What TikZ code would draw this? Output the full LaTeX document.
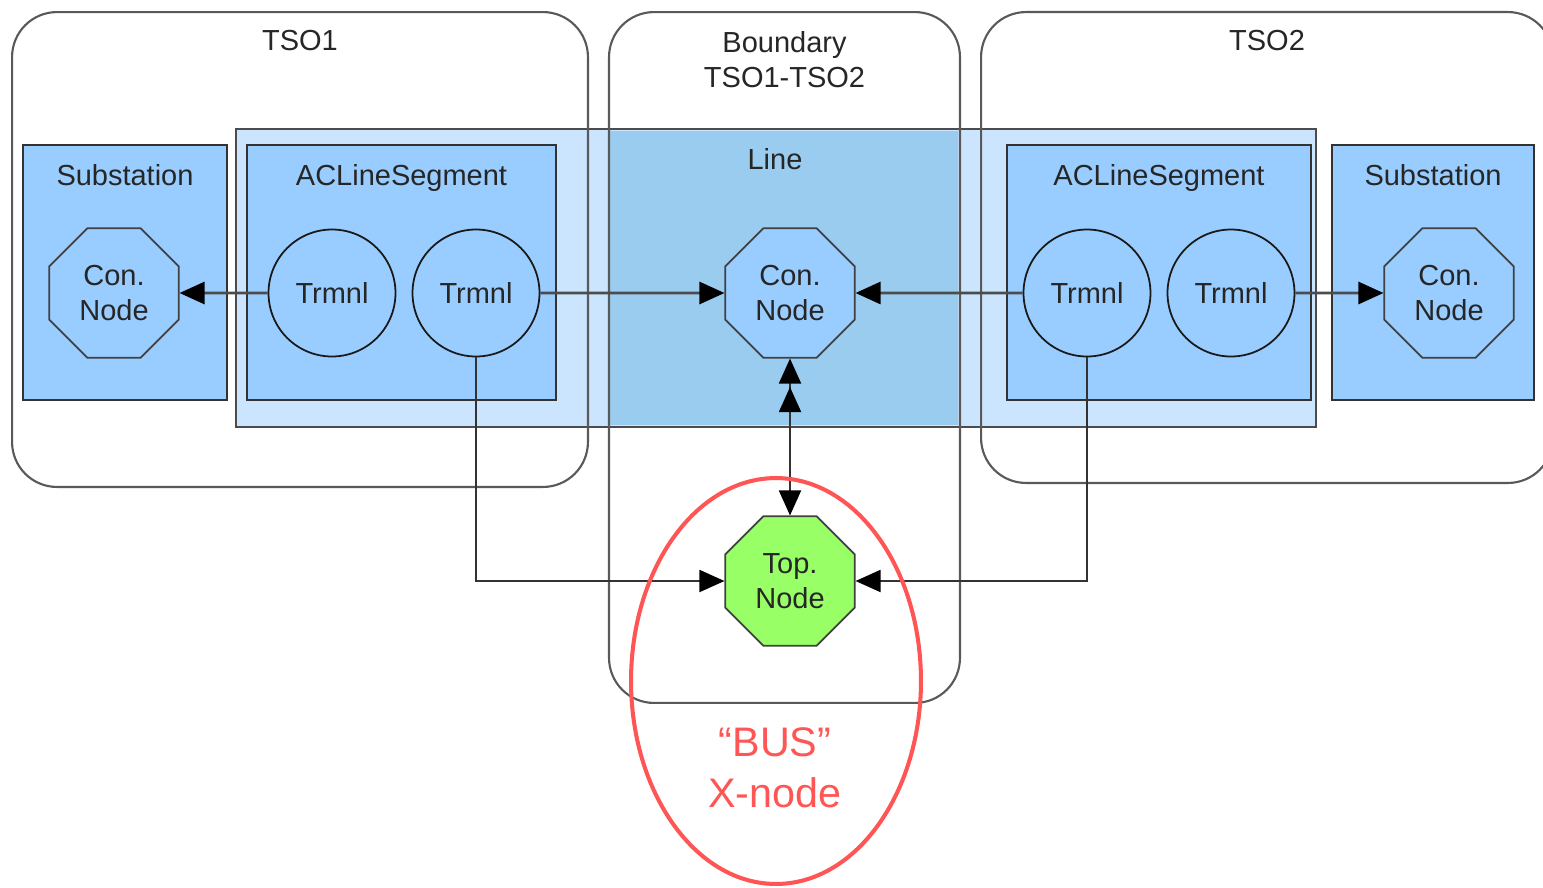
\documentclass[tikz,border=0pt]{standalone}
\usepackage{fontspec}
\setmainfont{Liberation Sans}
\usetikzlibrary{shapes.geometric,arrows.meta,positioning}
\definecolor{boxblue}{HTML}{99CCFF}
\definecolor{lineblue}{HTML}{CCE5FF}
\definecolor{linemid}{HTML}{99CCEE}
\definecolor{topgreen}{HTML}{99FF66}
\definecolor{busred}{HTML}{FF5555}

\begin{document}
\begin{tikzpicture}[
        x=0.02cm, y=-0.02cm,
        every node/.style={font=\fontsize{16.5}{19.8}\selectfont, text=black!85, inner sep=0pt},
        tsobox/.style={draw=black!65, line width=1.2pt, rounded corners=0.9cm},
        clsbox/.style={draw=black!80, line width=1.5pt, fill=boxblue, minimum height=5.1cm},
        connode/.style={draw=black!75, line width=1pt, fill=boxblue, regular polygon, regular polygon sides=8, minimum size=2.8cm, align=center},
        trmnl/.style={draw=black!90, line width=1pt, circle, minimum size=2.54cm},
        endtip/.style={-{Triangle[length=0.5cm, width=0.44cm, color=black]}},
        hconn/.style={draw=black!70, line width=1.6pt, endtip},
        vconn/.style={draw=black!80, line width=1.1pt, endtip},
    ]
    \useasboundingbox (0,0) rectangle (1543,887);

    % line object across the boundary
    \node[draw=black!70, line width=0.8pt, fill=lineblue, minimum width=21.6cm, minimum height=5.96cm](line) at (776,278) {};
    \node[fill=linemid, minimum width=6.98cm, minimum height=5.9cm](linemid) at (783.5,278) {};
    \node(linelbl) at (775,159) {Line};

    % classes
    \node[clsbox, minimum width=4.08cm](subL) at (125,272.5) {};
    \node[clsbox, minimum width=6.18cm](aclL) at (401.5,272.5) {};
    \node[clsbox, minimum width=6.08cm](aclR) at (1159,272.5) {};
    \node[clsbox, minimum width=4.04cm](subR) at (1433,272.5) {};
    \node(subLlbl) at ([yshift=-0.62cm]subL.north) {Substation};
    \node(aclLlbl) at ([yshift=-0.69cm]aclL.north) {ACLineSegment};
    \node(aclRlbl) at ([yshift=-0.69cm]aclR.north) {ACLineSegment};
    \node(subRlbl) at ([yshift=-0.62cm]subR.north) {Substation};

    % areas
    \node[tsobox, minimum width=11.52cm, minimum height=9.5cm](tso1) at (300,249.5) {};
    \node[tsobox, minimum width=7.02cm, minimum height=13.82cm](bnd) at (784.5,357.5) {};
    \node[tsobox, minimum width=11.44cm, minimum height=9.42cm](tso2) at (1267,247.5) {};
    \node(tso1lbl) at ([yshift=-0.6cm]tso1.north) {TSO1};
    \node[align=center](bndlbl) at ([yshift=-0.97cm]bnd.north) {Boundary\\TSO1-TSO2};
    \node(tso2lbl) at ([yshift=-0.6cm]tso2.north) {TSO2};

    % nodes and terminals
    \node[connode](conL) at (114,293) {Con.\\Node};
    \node[trmnl](tL1) at (332,293) {Trmnl};
    \node[trmnl](tL2) at (476,293) {Trmnl};
    \node[connode](conM) at (790,293) {Con.\\Node};
    \node[trmnl](tR1) at (1087,293) {Trmnl};
    \node[trmnl](tR2) at (1231,293) {Trmnl};
    \node[connode](conR) at (1449,293) {Con.\\Node};
    \node[connode, fill=topgreen](topN) at (790,581) {Top.\\Node};

    \draw[hconn] (tL1) -- (conL);
    \draw[hconn] (tL2) -- (conM);
    \draw[hconn] (tR1) -- (conM);
    \draw[hconn] (tR2) -- (conR);
    \draw[vconn, {Triangle[length=0.5cm, width=0.44cm, color=black]}-{Triangle[length=0.5cm, width=0.44cm, color=black, sep=2pt] Triangle[length=0.5cm, width=0.44cm, color=black]}] (topN) -- (conM);
    \draw[vconn] (tL2.south) |- (topN.west);
    \draw[vconn] (tR1.south) |- (topN.east);

    % bus
    \draw[busred, line width=2.3pt] (776,681) ellipse [x radius=2.9cm, y radius=4.06cm];
    \node[align=center, text=busred, font=\fontsize{23.5}{29}\selectfont](bus) at (775,767.5) {“BUS”\\X-node};
\end{tikzpicture}
\end{document}
